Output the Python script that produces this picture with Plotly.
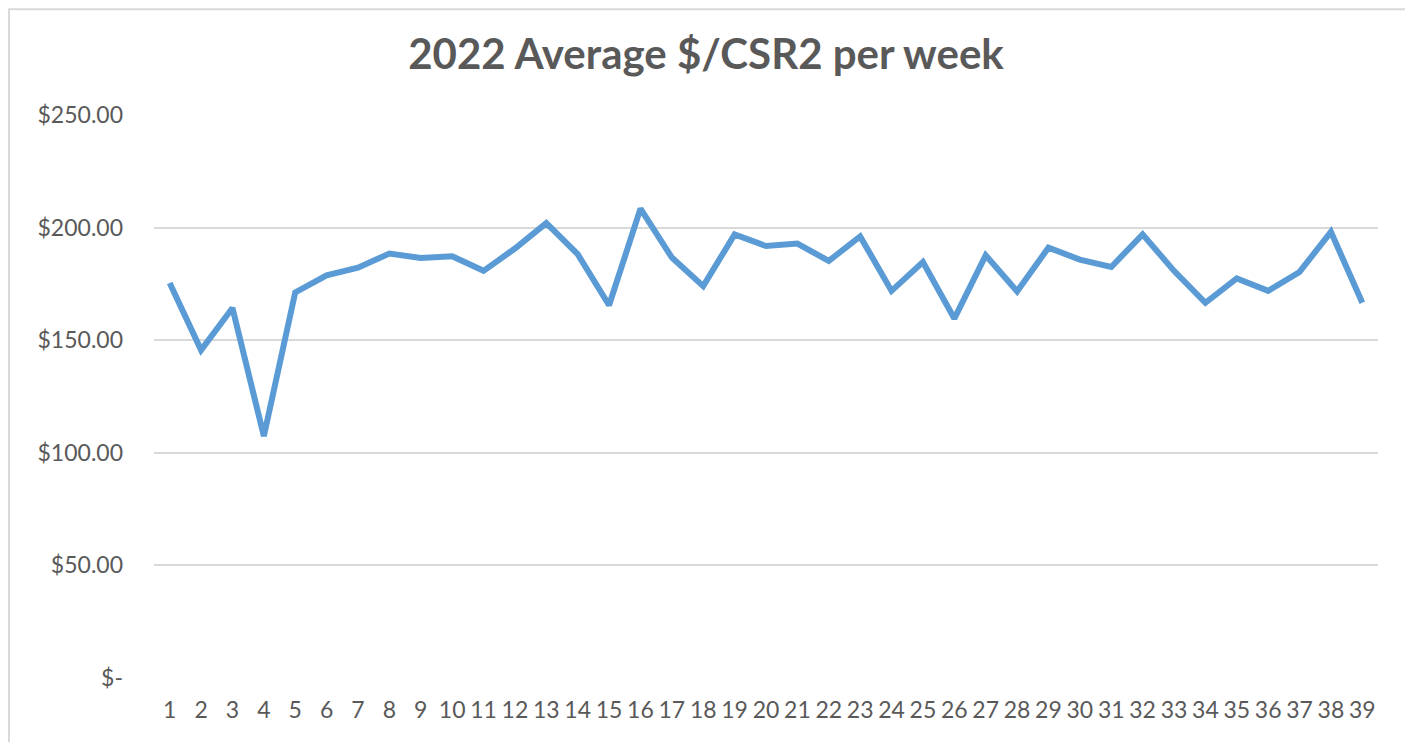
import plotly.graph_objects as go

weeks = list(range(1, 40))
avg_cost = [175.4, 145.6, 164.3, 107.4, 171.2, 178.8, 182.2, 188.5, 186.5, 187.3,
            180.8, 190.7, 202.0, 188.2, 165.5, 208.4, 186.7, 174.0, 197.0, 191.8,
            192.9, 185.2, 196.1, 171.9, 184.7, 159.6, 187.7, 171.7, 191.1, 185.8,
            182.5, 197.0, 180.8, 166.6, 177.4, 171.9, 180.3, 198.1, 166.6]
y_ticks = [0, 50, 100, 150, 200, 250]
y_tick_text = ["$-", "$50.00", "$100.00", "$150.00", "$200.00", "$250.00"]
title_text = "2022 Average $/CSR2 per week"

W, H = 1413, 742
OFF = 8  # page body margin
L, R, T, B = 154 - OFF, 1378 - OFF, 114.7 - OFF, 678 - OFF
pw, ph = R - L, B - T

fig = go.Figure()
fig.add_trace(go.Scatter(
    x=weeks, y=avg_cost, mode="lines",
    line=dict(color="#5B9BD5", width=6),
    hoverinfo="x+y",
))

def px_x(x):
    return (x - L) / pw

def px_y(y):
    return (B - y) / ph

fig.add_shape(type="rect", xref="paper", yref="paper",
              x0=px_x(1), x1=px_x(1406 - OFF), y0=px_y(760), y1=px_y(1),
              line=dict(color="#D9D9D9", width=2), fillcolor="rgba(0,0,0,0)", layer="below")

fig.update_layout(
    width=W, height=H,
    margin=dict(l=L, r=W - R, t=T, b=H - B, autoexpand=False),
    paper_bgcolor="white", plot_bgcolor="white",
    showlegend=False,
    font=dict(family="Lato, 'Open Sans', sans-serif", color="#595959"),
    title=dict(text=title_text, x=(706 - OFF) / W, xanchor="center", xref="container",
               y=1 - (54 - OFF) / H, yanchor="middle", yref="container",
               font=dict(family="Lato, sans-serif", size=42, color="#595959", weight="bold")),
    xaxis=dict(
        type="category", tickmode="array", tickvals=weeks, ticktext=[str(w) for w in weeks],
        range=[-0.5, len(weeks) - 0.5], showgrid=False, zeroline=False, showline=False,
        ticks="", tickfont=dict(size=23, color="#595959"), ticklabelstandoff=16,
        tickangle=0,
    ),
    yaxis=dict(
        range=[0, 250], tickmode="array", tickvals=y_ticks, ticktext=y_tick_text,
        showgrid=True, gridcolor="#D9D9D9", gridwidth=2, zeroline=False, showline=False,
        ticks="", tickfont=dict(size=23, color="#595959"), ticklabelstandoff=30,
    ),
)

fig.write_html("out.html")
